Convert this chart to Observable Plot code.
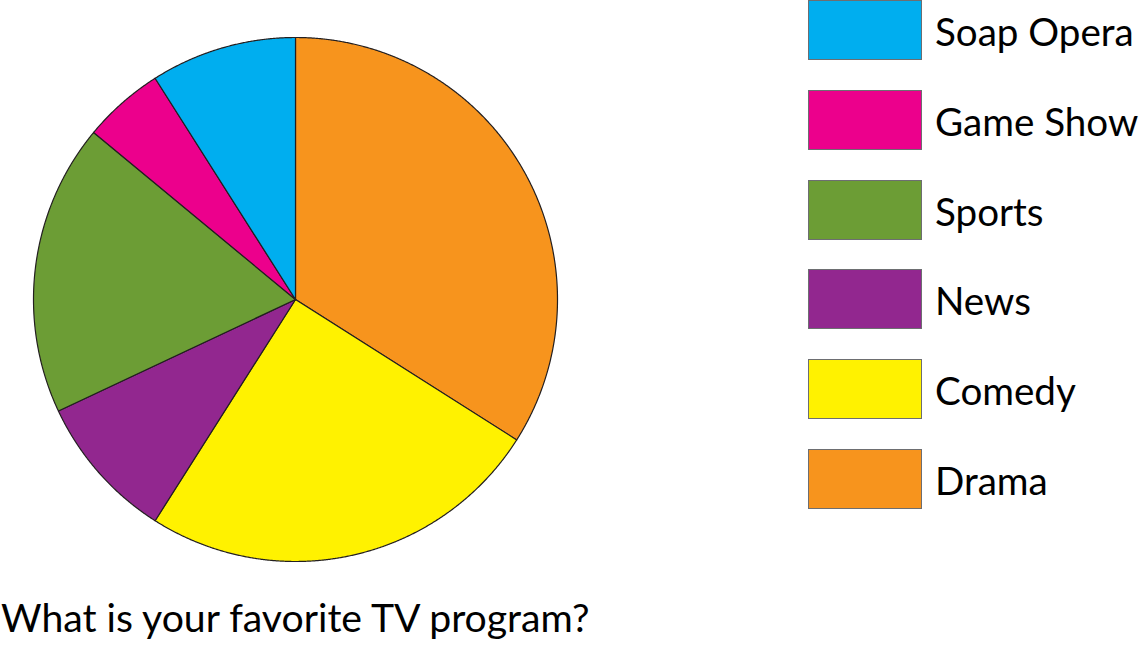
<!DOCTYPE html>
<html>
<head>
<meta charset="utf-8">
<script src="https://cdn.jsdelivr.net/npm/d3@7"></script>
<script src="https://cdn.jsdelivr.net/npm/@observablehq/plot@0.6"></script>
<style>
  html, body { margin: 0; padding: 0; background: #fff; }
  #wrap { position: relative; width: 1146px; height: 650px; overflow: hidden; font-family: Lato, "Noto Sans", sans-serif; color: #000; }
  #chart { position: absolute; left: 0; top: 0; }
  .sw { position: absolute; left: 808px; width: 112px; height: 58px; border: 1px solid #6d6e71; }
  .lab { position: absolute; left: 935px; font-size: 38.6px; line-height: 1; white-space: nowrap; }
  #title { position: absolute; left: 1px; top: 597px; font-size: 39.2px; line-height: 1; white-space: nowrap; }
</style>
</head>
<body>
<div id="wrap">
  <div id="chart"></div>
  <div id="legend"></div>
  <div id="title"></div>
</div>
<script>
// Legend order (top to bottom)
const categories = ["Soap Opera", "Game Show", "Sports", "News", "Comedy", "Drama"];
const values = [9, 5, 18, 9, 25, 34];
const colors = ["#00AEEF", "#EC008C", "#6C9D35", "#92278F", "#FFF200", "#F7941D"];
const titleText = "What is your favorite TV program?";

// Pie drawn clockwise from 12 o'clock starting with Drama
const pieOrder = categories.slice().reverse();
const pieData = pieOrder.map(name => ({ name, value: values[categories.indexOf(name)] }));
const arcs = d3.pie().sort(null).value(d => d.value)(pieData);

const points = [];
for (const a of arcs) {
  const name = a.data.name;
  points.push({ name, x: 0, y: 0 });
  const n = Math.max(2, Math.ceil((a.endAngle - a.startAngle) / 0.004));
  for (let i = 0; i <= n; i++) {
    const t = a.startAngle + (a.endAngle - a.startAngle) * i / n;
    points.push({ name, x: Math.sin(t), y: Math.cos(t) });
  }
  points.push({ name, x: 0, y: 0 });
}

const chart = Plot.plot({
  width: 1146,
  height: 570,
  margin: 0,
  style: { background: "transparent" },
  x: { domain: [-1, 1], range: [33, 557], axis: null },
  y: { domain: [-1, 1], range: [561, 37], axis: null },
  color: { type: "ordinal", domain: categories, range: colors },
  marks: [
    Plot.line(points, {
      x: "x", y: "y", z: "name", fill: "name",
      stroke: "#231f20", strokeWidth: 1.2, strokeLinejoin: "round", curve: "linear"
    })
  ]
});
document.getElementById("chart").appendChild(chart);

const legend = document.getElementById("legend");
categories.forEach((c, i) => {
  const top = i * 89.8;
  const sw = document.createElement("div");
  sw.className = "sw";
  sw.style.top = top + "px";
  sw.style.background = colors[i];
  legend.appendChild(sw);
  const lab = document.createElement("div");
  lab.className = "lab";
  lab.style.top = (top + 12) + "px";
  lab.textContent = c;
  legend.appendChild(lab);
});
document.getElementById("title").textContent = titleText;
</script>
</body>
</html>
